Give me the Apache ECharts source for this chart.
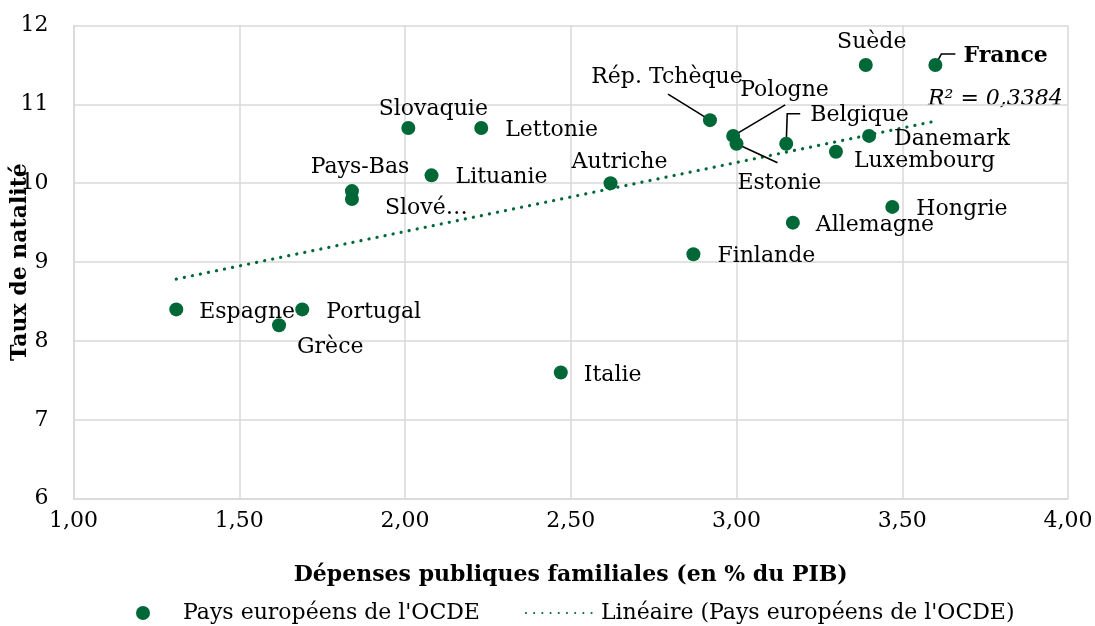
<!DOCTYPE html>
<html>
<head>
<meta charset="utf-8">
<script src="https://cdn.jsdelivr.net/npm/echarts@6/dist/echarts.min.js"></script>
<style>
html,body{margin:0;padding:0;background:#fff;}
#chart{width:1095px;height:626px;}
</style>
</head>
<body>
<div id="chart"></div>
<script>
// ---- data ----
const countries = ["Suède","France","Rép. Tchèque","Pologne","Estonie","Belgique","Danemark","Luxembourg","Hongrie","Allemagne","Finlande","Autriche","Italie","Slovaquie","Lettonie","Lituanie","Pays-Bas","Slovénie","Espagne","Portugal","Grèce"];
const pointLabels = ["Suède","France","Rép. Tchèque","Pologne","Estonie","Belgique","Danemark","Luxembourg","Hongrie","Allemagne","Finlande","Autriche","Italie","Slovaquie","Lettonie","Lituanie","Pays-Bas","Slové…","Espagne","Portugal","Grèce"];
const depenses = [3.39,3.60,2.92,2.99,3.00,3.15,3.40,3.30,3.47,3.17,2.87,2.62,2.47,2.01,2.23,2.08,1.84,1.84,1.31,1.69,1.62];
const natalite = [11.5,11.5,10.8,10.6,10.5,10.5,10.6,10.4,9.7,9.5,9.1,10.0,7.6,10.7,10.7,10.1,9.9,9.8,8.4,8.4,8.2];
const xTicks = ["1,00","1,50","2,00","2,50","3,00","3,50","4,00"];
const yTicks = ["6","7","8","9","10","11","12"];
const seriesName = "Pays européens de l'OCDE";
const trendName = "Linéaire (Pays européens de l'OCDE)";
const r2Text = "R² = 0,3384";

// ---- label layout (annotation styling, offsets from dot centre in px) ----
const labelLayout = {
  "Suède": [6,-23,"center"], "France": [28,-9,"left"], "Rép. Tchèque": [-43,-43,"center"],
  "Pologne": [7,-46,"left"], "Estonie": [1,39,"left"], "Belgique": [24,-29,"left"],
  "Danemark": [25,3,"left"], "Luxembourg": [18,10,"left"], "Hongrie": [24,2,"left"],
  "Allemagne": [23,3,"left"], "Finlande": [24,2,"left"], "Autriche": [9,-21,"center"],
  "Italie": [23,3,"left"], "Slovaquie": [25,-19,"center"], "Lettonie": [24,2,"left"],
  "Lituanie": [24,2,"left"], "Pays-Bas": [8,-24,"center"], "Slovénie": [33,9,"left"],
  "Espagne": [23,3,"left"], "Portugal": [24,3,"left"], "Grèce": [18,22,"left"]
};
const leaders = {
  "Rép. Tchèque": [[-42,-26]],
  "Pologne": [[52,-31]],
  "Estonie": [[41,19]],
  "Belgique": [[1,-30],[14,-30]],
  "France": [[6,-11],[20,-11]]
};

// ---- linear regression (trendline) ----
const n = depenses.length;
const mx = depenses.reduce((a,b)=>a+b,0)/n;
const my = natalite.reduce((a,b)=>a+b,0)/n;
let sxy=0, sxx=0;
for(let i=0;i<n;i++){ sxy+=(depenses[i]-mx)*(natalite[i]-my); sxx+=(depenses[i]-mx)**2; }
const slope = sxy/sxx, icpt = my - slope*mx;
const xMin = Math.min(...depenses), xMax = Math.max(...depenses);
const trendData = [[xMin, icpt+slope*xMin],[xMax, icpt+slope*xMax]];

const GREEN = '#006837';
const FONT = 'DejaVu Serif';
const FS = 22;
const SYM = 14;

const scatterData = countries.map((c,i)=>{
  const L = labelLayout[c];
  return {
    name: c,
    value: [depenses[i], natalite[i]],
    label: {
      show: true,
      formatter: pointLabels[i],
      position: [L[0]+SYM/2, L[1]+SYM/2],
      align: L[2],
      verticalAlign: 'middle',
      fontFamily: FONT, fontSize: FS, color: '#000',
      fontWeight: c === 'France' ? 'bold' : 'normal'
    }
  };
});

const chart = echarts.init(document.getElementById('chart'), null, {renderer:'canvas'});
chart.setOption({
  animation: false,
  textStyle: {fontFamily: FONT},
  grid: {left: 73.5, right: 27, top: 25.5, bottom: 127.3, containLabel: false, outerBoundsMode: 'none'},
  xAxis: {
    type: 'value', min: 1, max: 4, interval: 0.5,
    name: 'Dépenses publiques familiales (en % du PIB)',
    nameLocation: 'middle', nameGap: 66,
    nameTextStyle: {fontFamily: FONT, fontWeight: 'bold', fontSize: FS, color: '#000'},
    axisLine: {show: true, lineStyle: {color: '#d9d9d9', width: 1.5}},
    axisTick: {show: false},
    axisLabel: {fontFamily: FONT, fontSize: FS, color: '#000', margin: 12,
      formatter: v => xTicks[Math.round((v-1)/0.5)]},
    splitLine: {show: true, lineStyle: {color: '#d9d9d9', width: 1.5}}
  },
  yAxis: {
    type: 'value', min: 6, max: 12, interval: 1,
    name: 'Taux de natalité',
    nameLocation: 'middle', nameGap: 42, nameMoveOverlap: false,
    nameTextStyle: {fontFamily: FONT, fontWeight: 'bold', fontSize: FS, color: '#000'},
    axisLine: {show: true, lineStyle: {color: '#d9d9d9', width: 1.5}},
    axisTick: {show: false},
    axisLabel: {fontFamily: FONT, fontSize: FS, color: '#000', margin: 25,
      formatter: v => yTicks[Math.round(v-6)]},
    splitLine: {show: true, lineStyle: {color: '#d9d9d9', width: 1.5}}
  },
  legend: {
    left: 131, top: 597,
    itemWidth: 70, itemHeight: 14, itemGap: 45,
    textStyle: {fontFamily: FONT, fontSize: FS, color: '#000'},
    data: [
      {name: seriesName, icon: 'circle'},
      {name: trendName, itemStyle: {color: 'rgba(0,0,0,0)', opacity: 0, borderWidth: 0}}
    ]
  },
  graphic: [{
    type: 'text', left: 928, top: 88,
    style: {text: r2Text, font: 'italic 22px "DejaVu Serif"', fill: '#000'}
  }],
  series: [
    {
      name: trendName, type: 'line', data: trendData,
      showSymbol: false, symbol: 'none', z: 2,
      lineStyle: {color: GREEN, width: 3.2, type: [0.1, 8.1], cap: 'round'},
      itemStyle: {color: GREEN}
    },
    {
      name: 'leaders', type: 'custom', z: 3, silent: true,
      data: countries.map((c,i)=>[depenses[i], natalite[i], i]),
      renderItem: (params, api) => {
        const c = countries[api.value(2)];
        const pts = leaders[c];
        if (!pts) return null;
        const p = api.coord([api.value(0), api.value(1)]);
        const poly = [p].concat(pts.map(o => [p[0]+o[0], p[1]+o[1]]));
        return {type: 'polyline', shape: {points: poly},
          style: {stroke: '#000', lineWidth: 1.6, fill: null}};
      }
    },
    {
      name: seriesName, type: 'scatter', symbol: 'circle', symbolSize: SYM, z: 4,
      itemStyle: {color: GREEN, opacity: 1},
      data: scatterData
    }
  ]
});
</script>
</body>
</html>
